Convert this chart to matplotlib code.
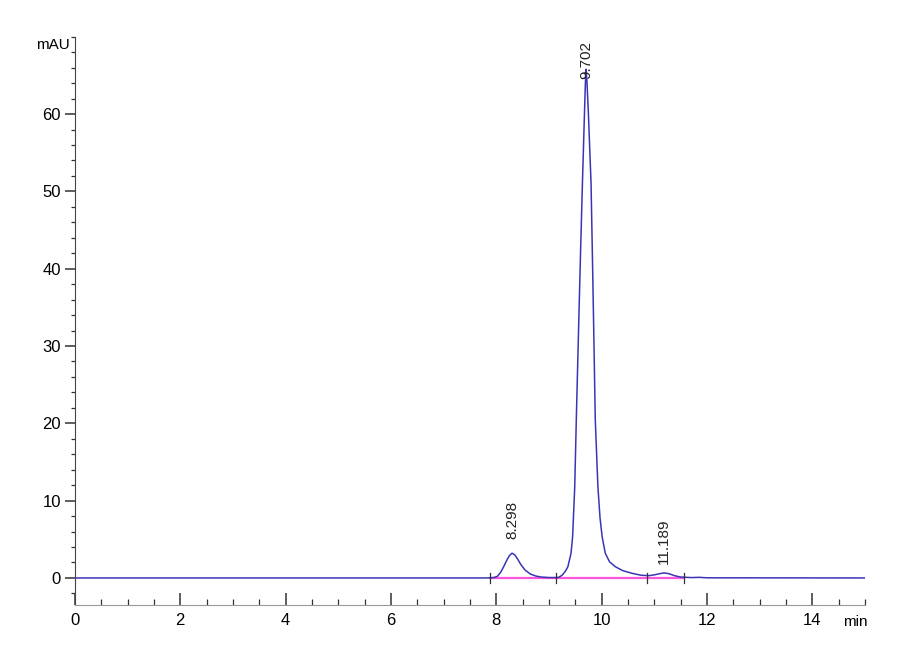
import matplotlib
matplotlib.use("Agg")
import matplotlib.pyplot as plt
from matplotlib.ticker import MultipleLocator, FixedLocator

plt.rcParams['font.family'] = ['Liberation Sans Narrow', 'Liberation Sans', 'DejaVu Sans']

# -----------------------------
# Chromatogram trace
# -----------------------------
time_min = [0.0, 7.8, 7.95, 8.02, 8.08, 8.14, 8.2, 8.25, 8.298, 8.35, 8.4, 8.47,
            8.55, 8.65, 8.75, 8.85, 9.0, 9.15, 9.19, 9.25, 9.28, 9.32, 9.36, 9.42,
            9.45, 9.49, 9.52, 9.566, 9.6, 9.636, 9.67, 9.69, 9.702, 9.72, 9.75,
            9.8, 9.83, 9.851, 9.88, 9.93, 9.97, 10.01, 10.07, 10.15, 10.26, 10.4,
            10.58, 10.75, 10.9, 11.0, 11.1, 11.189, 11.28, 11.38, 11.5, 11.7,
            11.85, 12.0, 15.0]
signal_mau = [0.0, 0.0, 0.05, 0.2, 0.7, 1.45, 2.3, 2.9, 3.2, 3.0, 2.5, 1.7,
              1.0, 0.5, 0.25, 0.12, 0.05, 0.05, 0.1, 0.35, 0.6, 0.95, 1.46, 3.2,
              5.35, 11.8, 20.5, 33.0, 42.0, 51.0, 59.0, 63.5, 65.8, 64.5, 60.0,
              51.0, 40.0, 32.0, 20.5, 11.8, 7.8, 5.35, 3.2, 2.1, 1.46, 0.95,
              0.6, 0.35, 0.3, 0.4, 0.55, 0.65, 0.55, 0.3, 0.12, 0.05,
              0.08, 0.02, 0.0]

# integration baseline and its start/end markers
baseline_t = [7.89, 11.56]
baseline_v = [0.0, 0.0]
marker_t = [7.89, 9.14, 10.87, 11.56]

# peak labels
peak_t = [8.298, 9.702, 11.189]
peak_v = [3.2, 65.8, 0.65]
peak_labels = ["8.298", "9.702", "11.189"]

y_major = [0, 10, 20, 30, 40, 50, 60]

fig = plt.figure(figsize=(9, 6.6), dpi=100)
ax = fig.add_axes([0.0833, 0.0833, 0.8777, 0.861])

ax.plot(baseline_t, baseline_v, color="#ff55dd", lw=1.6, zorder=2)
ax.plot(time_min, signal_mau, color="#3b35b5", lw=1.1, zorder=3)
for t in marker_t:
    ax.plot([t, t], [-0.7, 0.7], color="#333333", lw=0.9, zorder=4)

offsets = [1.8, -1.2, 1.2]
for t, v, lab, off in zip(peak_t, peak_v, peak_labels, offsets):
    ax.text(t, v + off, lab, rotation=90, ha="center", va="bottom",
            fontsize=11, color="#222222", clip_on=False, zorder=5)

ax.set_xlim(0, 15)
ax.set_ylim(-3.5, 70)

ax.xaxis.set_major_locator(MultipleLocator(2))
ax.xaxis.set_minor_locator(MultipleLocator(0.5))
ax.yaxis.set_major_locator(FixedLocator(y_major))
ax.yaxis.set_minor_locator(MultipleLocator(2))

ax.tick_params(axis="x", which="major", direction="in", length=9, width=1.1,
               color="#333333", labelsize=12, pad=6)
ax.tick_params(axis="x", which="minor", direction="in", length=4, width=0.9,
               color="#333333")
ax.tick_params(axis="y", which="major", direction="out", length=7, width=1.1,
               color="#333333", labelsize=12, pad=3)
ax.tick_params(axis="y", which="minor", direction="out", length=3, width=0.9,
               color="#333333")

for side in ["top", "right"]:
    ax.spines[side].set_visible(False)
ax.spines["left"].set_color("#444444")
ax.spines["bottom"].set_color("#999999")

ax.text(-0.007, 0.986, "mAU", transform=ax.transAxes, ha="right", va="center",
        fontsize=11, clip_on=False)
ax.text(0.988, -0.03, "min", transform=ax.transAxes, ha="center", va="center",
        fontsize=11, clip_on=False)

fig.savefig("out.png", dpi=100)
